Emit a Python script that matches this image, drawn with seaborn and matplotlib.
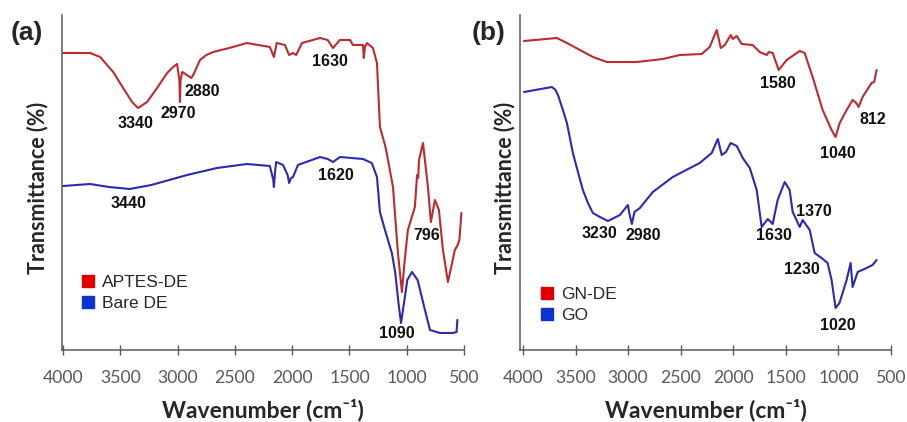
import numpy as np
import pandas as pd
import matplotlib
matplotlib.use("Agg")
import matplotlib.pyplot as plt
from matplotlib.lines import Line2D
import seaborn as sns

# ---------------- data ----------------
aptes_wn = [4000, 3900, 3765, 3677, 3563, 3476, 3398, 3346, 3267, 3180, 3092, 3040, 3005, 2985, 2980,
            2975, 2960, 2880, 2860, 2805, 2750, 2690, 2550, 2395, 2195, 2160, 2135, 2063, 2027, 1993,
            1965, 1915, 1757, 1690, 1644, 1583, 1495, 1470, 1382, 1375, 1365, 1347, 1295, 1260, 1234,
            1190, 1175, 1120, 1077, 1042, 1020, 990, 929, 910, 900, 893, 858, 815, 789, 754, 719,
            684, 640, 580, 555, 540, 523]
aptes_t = [297, 297, 297, 293, 278, 262, 248, 242, 248, 262, 277, 283, 286, 270, 248,
           270, 278, 272, 276, 290, 295, 298, 302, 307, 303, 293, 307, 305, 295, 297,
           295, 307, 312, 310, 302, 310, 310, 305, 305, 292, 303, 307, 302, 287, 223,
           205, 197, 163, 97, 58, 87, 120, 143, 175, 172, 190, 207, 163, 128, 150, 140,
           100, 68, 100, 105, 110, 137]

bare_wn = [4000, 3765, 3600, 3420, 3230, 2918, 2657, 2395, 2195, 2165, 2160, 2150, 2140, 2080, 2040,
           2027, 2010, 1993, 1950, 1757, 1690, 1644, 1583, 1382, 1305, 1260, 1234, 1190, 1130, 1100,
           1070, 1050, 1020, 995, 954, 905, 841, 797, 710, 597, 565, 558]
bare_t = [164, 166, 163, 161, 165, 175, 182, 186, 184, 170, 163, 178, 188, 185, 175,
          167, 172, 173, 185, 193, 191, 188, 193, 191, 187, 173, 138, 120, 97, 77,
          45, 27, 50, 70, 78, 70, 40, 20, 17, 17, 18, 30]

gnde_wn = [3990, 3677, 3582, 3458, 3334, 3202, 3078, 2917, 2670, 2508, 2300, 2224, 2157, 2119, 2080,
           2024, 2005, 1967, 1920, 1815, 1749, 1682, 1663, 1625, 1568, 1492, 1368, 1321, 1245, 1150,
           1065, 1027, 988, 922, 865, 830, 808, 770, 685, 660, 637]
gnde_t = [309, 312, 307, 300, 293, 288, 288, 288, 291, 295, 296, 303, 320, 302, 305,
          315, 311, 314, 306, 305, 298, 295, 298, 297, 280, 290, 299, 297, 273, 240,
          220, 213, 227, 240, 250, 247, 243, 253, 267, 268, 280]

go_wn = [3990, 3724, 3690, 3667, 3620, 3582, 3525, 3477, 3430, 3382, 3335, 3268, 3192, 3078, 3002,
         2985, 2964, 2940, 2888, 2765, 2575, 2319, 2205, 2147, 2110, 2070, 2024, 1967, 1910, 1843,
         1777, 1730, 1672, 1625, 1578, 1511, 1464, 1435, 1368, 1340, 1273, 1226, 1160, 1103, 1065,
         1027, 990, 922, 884, 865, 817, 732, 675, 637]
go_t = [258, 263, 260, 255, 240, 227, 197, 178, 160, 147, 137, 133, 129, 135, 145,
        135, 126, 138, 142, 158, 173, 187, 197, 211, 195, 198, 207, 204, 192, 182,
        160, 123, 131, 126, 150, 168, 160, 138, 123, 130, 120, 97, 92, 87, 70,
        42, 47, 70, 87, 63, 78, 82, 85, 90]

ticks = [4000, 3500, 3000, 2500, 2000, 1500, 1000, 500]

labels_a = ["3340", "2970", "2880", "1630", "3440", "1620", "796", "1090"]
labels_a_wn = [3372, 2997, 2787, 1670, 3433, 1618, 824, 1085]
labels_a_t = [227, 237, 259, 289, 147, 174, 115, 17]

labels_b = ["1580", "1040", "812", "3230", "2980", "1630", "1370", "1230", "1020"]
labels_b_wn = [1575, 1004, 671, 3268, 2859, 1613, 1232, 1346, 1004]
labels_b_t = [267, 197, 231, 117, 114, 114, 139, 81, 25]

series_a = ["APTES-DE", "Bare DE"]
series_b = ["GN-DE", "GO"]

# ---------------- style ----------------
sns.set_theme(style="white")
plt.rcParams["font.family"] = ["Liberation Sans", "DejaVu Sans"]

RED_LINE = "#c0292e"
BLUE_LINE = "#2a2ab5"
RED_SQ = "#e00000"
BLUE_SQ = "#0a35d0"
GREY = "#595959"

fig = plt.figure(figsize=(9.07, 4.22), dpi=100)
W, H = 907, 422
ax_a = fig.add_axes([62 / W, (H - 350) / H, 402 / W, 335 / H])
ax_b = fig.add_axes([520 / W, (H - 350) / H, 371 / W, 335 / H])


def style_axis(ax, xlim, ylab_x):
    ax.set_xlim(*xlim)
    ax.set_ylim(0, 335)
    ax.set_xticks(ticks)
    ax.set_xticklabels([str(t) for t in ticks], fontsize=12.7, color=GREY,
                       family=["Lato", "DejaVu Sans"])
    ax.set_yticks([])
    sns.despine(ax=ax)
    for s in ["left", "bottom"]:
        ax.spines[s].set_color(GREY)
        ax.spines[s].set_linewidth(1.1)
    ax.tick_params(axis="x", direction="inout", length=7, width=1, color=GREY, pad=11,
                   bottom=True)
    ax.set_xlabel("Wavenumber (cm\u207b\u00b9)", fontsize=16.5, fontweight="bold",
                  family=["Lato", "DejaVu Sans"], color="#262626", labelpad=9)
    ax.set_ylabel("Transmittance (%)", fontsize=15.5, fontweight="bold",
                  family=["Lato", "DejaVu Sans"], color="#262626")
    ax.yaxis.set_label_coords(ylab_x, 0.484)
    handles = [Line2D([], [], ls="none", marker="s", ms=8, color=RED_SQ),
               Line2D([], [], ls="none", marker="s", ms=8, color=BLUE_SQ)]
    return handles


# panel (a)
sns.lineplot(x=aptes_wn, y=aptes_t, ax=ax_a, color=RED_LINE, lw=1.5, estimator=None, sort=False)
sns.lineplot(x=bare_wn, y=bare_t, ax=ax_a, color=BLUE_LINE, lw=1.5, estimator=None, sort=False)
h = style_axis(ax_a, (4010, 500), -0.035)
ax_a.legend(h, series_a, loc="upper left", bbox_to_anchor=(0.025, 0.245), frameon=False,
            fontsize=12.5, handletextpad=0.3, labelspacing=0.35, borderaxespad=0,
            handlelength=1.0)
for s, x, y in zip(labels_a, labels_a_wn, labels_a_t):
    ax_a.text(x, y, s, ha="center", va="center", fontsize=11.5, fontweight="bold", color="#111111")

# panel (b)
sns.lineplot(x=gnde_wn, y=gnde_t, ax=ax_b, color=RED_LINE, lw=1.5, estimator=None, sort=False)
sns.lineplot(x=go_wn, y=go_t, ax=ax_b, color=BLUE_LINE, lw=1.5, estimator=None, sort=False)
h = style_axis(ax_b, (4028, 500), -0.013)
ax_b.legend(h, series_b, loc="upper left", bbox_to_anchor=(0.03, 0.21), frameon=False,
            fontsize=12.5, handletextpad=0.3, labelspacing=0.35, borderaxespad=0,
            handlelength=1.0)
for s, x, y in zip(labels_b, labels_b_wn, labels_b_t):
    ax_b.text(x, y, s, ha="center", va="center", fontsize=11.5, fontweight="bold", color="#111111")

fig.text(27 / W, 1 - 33 / H, "(a)", ha="center", va="center", fontsize=19, fontweight="bold")
fig.text(489 / W, 1 - 33 / H, "(b)", ha="center", va="center", fontsize=19, fontweight="bold")

fig.savefig("out.png", dpi=100)
